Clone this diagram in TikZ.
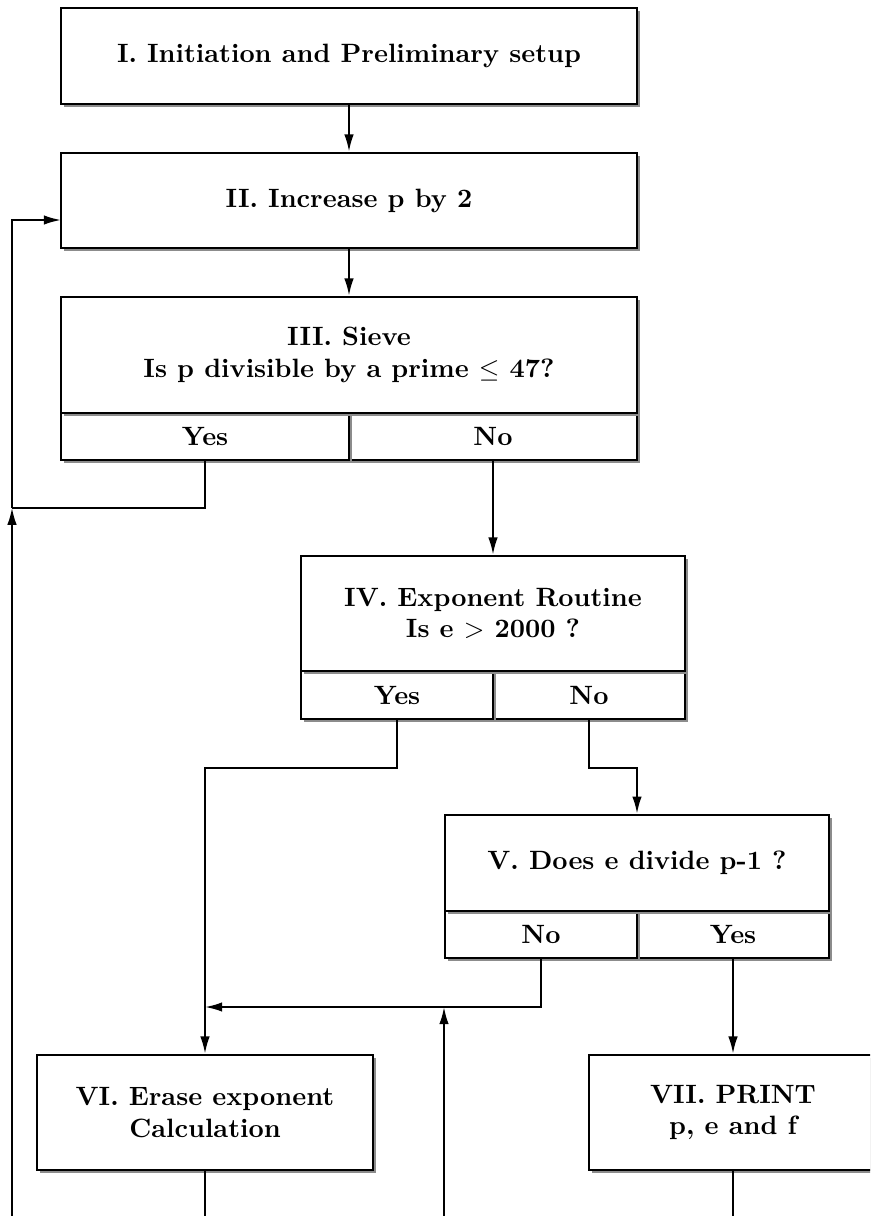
\documentclass[tikz,border=0pt]{standalone}
\usetikzlibrary{arrows.meta,shadows}
\begin{document}
\begin{tikzpicture}[x=0.3774pt,y=-0.3774pt]
		\tikzstyle{block}=[draw,fill=white,line width=1pt,inner sep=0pt,align=center,font=\bfseries,
			drop shadow={shadow xshift=1.1pt,shadow yshift=-1.1pt,fill=black!45,opacity=1}]
		\tikzstyle{flow}=[-{Latex[length=6.5pt,width=3.6pt]},line width=0.75pt]
		\tikzstyle{line}=[line width=0.75pt]
		\clip (0,0) rectangle (870,1216);
		% boxes, answer cells first so the shadows overlap as in a table
		\node[block,minimum width=217.4pt,minimum height=36.2pt] (init) at (349,56) {I. Initiation and Preliminary setup};
		\node[block,minimum width=217.4pt,minimum height=35.9pt] (incr) at (349,200.5) {II. Increase p by 2};
		\node[block,minimum width=108.7pt,minimum height=17.7pt] (sieve_no) at (493,436.5) {No};
		\node[block,minimum width=108.7pt,minimum height=17.7pt] (sieve_yes) at (205,436.5) {Yes};
		\node[block,minimum width=217.4pt,minimum height=43.8pt] (sieve) at (349,355) {III. Sieve\\Is p divisible by a prime $\leq$ 47?};
		\node[block,minimum width=72.5pt,minimum height=18.1pt] (expo_no) at (589,695) {No};
		\node[block,minimum width=72.5pt,minimum height=18.1pt] (expo_yes) at (397,695) {Yes};
		\node[block,minimum width=144.9pt,minimum height=43.4pt] (expo) at (493,613.5) {IV. Exponent Routine\\Is e $>$ 2000 ?};
		\node[block,minimum width=72.5pt,minimum height=17.7pt] (div_yes) at (733,934.5) {Yes};
		\node[block,minimum width=72.5pt,minimum height=17.7pt] (div_no) at (541,934.5) {No};
		\node[block,minimum width=144.9pt,minimum height=36.2pt] (div) at (637,863) {V. Does e divide p-1 ?};
		\node[block,minimum width=126.8pt,minimum height=43.4pt] (erase) at (205,1112.5) {VI. Erase exponent\\Calculation};
		\node[block,minimum width=108.7pt,minimum height=43.4pt] (print) at (733,1112.5) {VII. PRINT\\p, e and f};
		% connectors
		\coordinate (loop) at (12,507.7);
		\coordinate (loop_in) at (61,220);
		\coordinate (loop_bot) at (12,1216);
		\coordinate (merge) at (205,1007);
		\coordinate (back_bot) at (444,1216);
		\draw[flow] (init) -- (incr);
		\draw[flow] (incr) -- (sieve);
		\draw[line] (sieve_yes.south) |- (loop);
		\draw[flow] (loop_bot) -- (loop);
		\draw[flow] (loop) |- (loop_in);
		\draw[flow] (sieve_no.south) -- (expo.north);
		\draw[flow] (expo_yes.south) -- ++(0,48) -| (erase.north);
		\draw[flow] (expo_no.south) -- ++(0,48) -| (div.north);
		\draw[flow] (div_no.south) |- (merge);
		\draw[flow] (back_bot) -- (back_bot |- merge);
		\draw[flow] (div_yes.south) -- (print.north);
		\draw[line] (erase.south) -- ++(0,60);
		\draw[line] (print.south) -- ++(0,60);
	\end{tikzpicture}
\end{document}
